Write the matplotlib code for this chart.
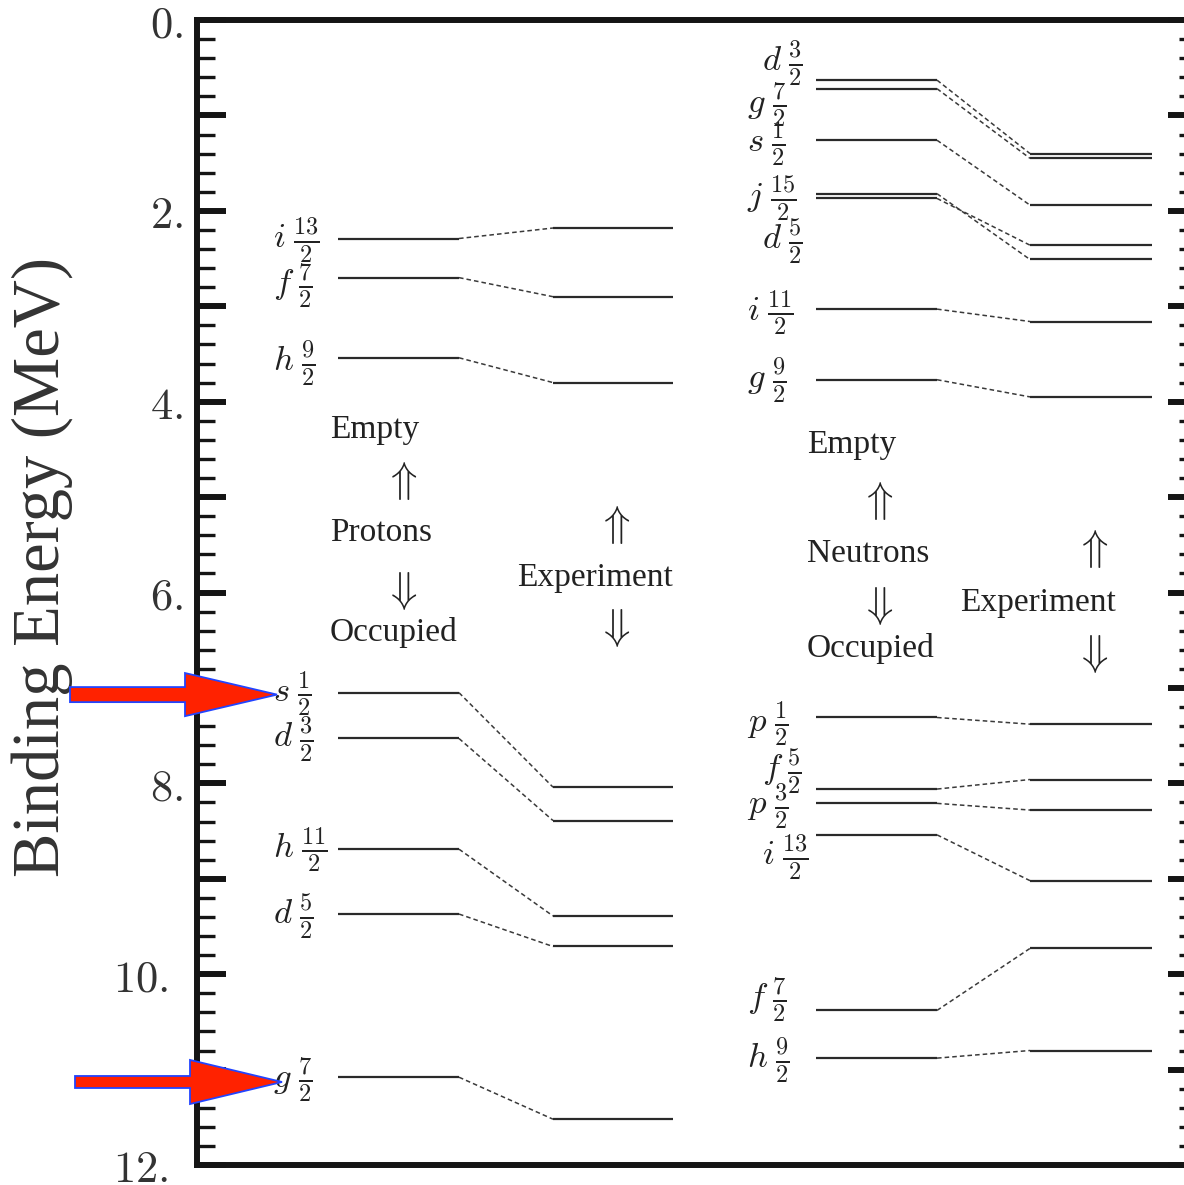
import matplotlib
matplotlib.use("Agg")
import matplotlib.pyplot as plt
import matplotlib.patches as mpatches
from matplotlib.transforms import blended_transform_factory, ScaledTranslation
from matplotlib.ticker import FixedLocator, MultipleLocator

plt.rcParams['mathtext.fontset'] = 'cm'

# ---------------- data (binding energies, MeV) ----------------
proton_l = ['i', 'f', 'h', 's', 'd', 'h', 'd', 'g']
proton_2j = ['13', '7', '9', '1', '3', '11', '5', '7']
proton_theory = [2.29, 2.70, 3.54, 7.05, 7.53, 8.69, 9.37, 11.08]
proton_exp = [2.18, 2.90, 3.80, 8.04, 8.39, 9.39, 9.71, 11.52]

neutron_l = ['d', 'g', 's', 'j', 'd', 'i', 'g', 'p', 'f', 'p', 'i', 'f', 'h']
neutron_2j = ['3', '7', '1', '15', '5', '11', '9', '1', '5', '3', '13', '7', '9']
neutron_theory = [0.63, 0.72, 1.26, 1.82, 1.87, 3.03, 3.77, 7.31, 8.06, 8.21, 8.54, 10.38, 10.88]
neutron_exp = [1.40, 1.45, 1.94, 2.51, 2.36, 3.16, 3.95, 7.38, 7.96, 8.28, 9.02, 9.73, 10.80]

ytick_values = [0, 2, 4, 6, 8, 10, 12]
ytick_labels = ['0.', '2.', '4.', '6.', '8.', '10.', '12.']

# ---------------- layout ----------------
proton_label_dy = [0.02, 0.08, 0.06, 0.01, 0.01, 0.0, 0.02, 0.02]
neutron_label_dy = [-0.18, 0.17, 0.03, 0.05, 0.45, 0.04, 0.01, 0.06, -0.18, 0.03, 0.24, -0.11, 0.02]
neutron_label_x = [565, 550, 550, 550, 565, 550, 550, 550, 565, 550, 565, 550, 550]

W, H = 1184, 1185
fig = plt.figure(figsize=(W / 100, H / 100), dpi=100)
ax = fig.add_axes([197 / W, 1 - 1165 / H, (1197 - 197) / W, (1165 - 20) / H])
ax.set_xlim(0, 1000)
ax.set_ylim(12, 0)

line_col = '#2a2a2a'
dash_col = '#3a3a3a'


def draw_column(theory, exp, xt, xe, labels_l, labels_j, lab_x, lab_dy):
    for i, (t, e) in enumerate(zip(theory, exp)):
        ax.plot([xt[0], xt[1]], [t, t], color=line_col, lw=1.6, solid_capstyle='butt')
        ax.plot([xe[0], xe[1]], [e, e], color=line_col, lw=1.6, solid_capstyle='butt')
        ax.plot([xt[1], xe[0]], [t, e], color=dash_col, lw=1.1, linestyle=(0, (3, 2)))
        lx = lab_x[i] if isinstance(lab_x, list) else lab_x
        ax.text(lx, t + lab_dy[i], r'$%s\;\frac{%s}{2}$' % (labels_l[i], labels_j[i]),
                fontsize=25, ha='left', va='center', color='#222222')


draw_column(proton_theory, proton_exp, (141, 262), (356, 476),
            proton_l, proton_2j, 76, proton_label_dy)
draw_column(neutron_theory, neutron_exp, (619, 740), (833, 955),
            neutron_l, neutron_2j, neutron_label_x, neutron_label_dy)

# descriptive texts
serif = 'Liberation Serif'
tcol = '#222222'
for (x, y, s) in [(133, 4.38, 'Empty'), (133, 5.46, 'Protons'), (133, 6.51, 'Occupied'),
                  (320, 5.93, 'Experiment'),
                  (610, 4.54, 'Empty'), (610, 5.68, 'Neutrons'), (610, 6.68, 'Occupied'),
                  (763, 6.19, 'Experiment')]:
    ax.text(x, y, s, fontsize=24, family=serif, ha='left', va='baseline', color=tcol)

for (x, y, s) in [(203, 4.83, r'$\Uparrow$'), (203, 5.98, r'$\Downarrow$'),
                  (416, 5.29, r'$\Uparrow$'), (416, 6.37, r'$\Downarrow$'),
                  (679, 5.04, r'$\Uparrow$'), (679, 6.14, r'$\Downarrow$'),
                  (894, 5.54, r'$\Uparrow$'), (894, 6.64, r'$\Downarrow$')]:
    ax.text(x, y, s, fontsize=31, ha='center', va='center', color=tcol)

# axes styling
for side in ['left', 'top', 'bottom', 'right']:
    ax.spines[side].set_linewidth(4.3)
    ax.spines[side].set_color('#151515')
ax.set_xticks([])
ax.yaxis.set_major_locator(FixedLocator(list(range(0, 13))))
ax.yaxis.set_minor_locator(MultipleLocator(0.2))
tick_text = []
for v in range(0, 13):
    if v in ytick_values:
        tick_text.append(r'$\mathrm{%s}$' % ytick_labels[ytick_values.index(v)])
    else:
        tick_text.append('')
ax.set_yticklabels(tick_text)
ax.tick_params(axis='y', which='major', direction='in', length=21, width=4.3,
               labelsize=32, pad=10, right=True, color='#151515', labelcolor='#333333')
ax.tick_params(axis='y', which='minor', direction='in', length=13, width=2.4,
               right=True, color='#151515')

# two-digit labels sit a little further left in the reference
for tick, txt in zip(ax.yaxis.get_major_ticks(), tick_text):
    if '10' in txt or '12' in txt:
        lab = tick.label1
        lab.set_transform(lab.get_transform() + ScaledTranslation(-0.15, 0, fig.dpi_scale_trans))

fig.text(42 / W, 1 - 567 / H, 'Binding Energy (MeV)', rotation=90, fontsize=48,
         family=serif, ha='center', va='center', color='#333333')

# red annotation arrows pointing at proton s1/2 and g7/2
tr = blended_transform_factory(fig.transFigure, ax.transData)


def red_arrow(x_tail, x_base, x_tip, yc, shaft_hw, head_hw):
    verts = [(x_tail, yc - shaft_hw), (x_base, yc - shaft_hw), (x_base, yc - head_hw),
             (x_tip, yc), (x_base, yc + head_hw), (x_base, yc + shaft_hw), (x_tail, yc + shaft_hw)]
    p = mpatches.Polygon(verts, closed=True, facecolor='#ff2200', edgecolor='#2244ff',
                         linewidth=1.3, transform=tr, clip_on=False, zorder=10)
    fig.patches.append(p)


red_arrow(70 / W, 185 / W, 277 / W, proton_theory[3] + 0.02, 0.079, 0.226)
red_arrow(75 / W, 190 / W, 282 / W, proton_theory[7] + 0.05, 0.063, 0.231)

fig.savefig('out.png', dpi=100)
